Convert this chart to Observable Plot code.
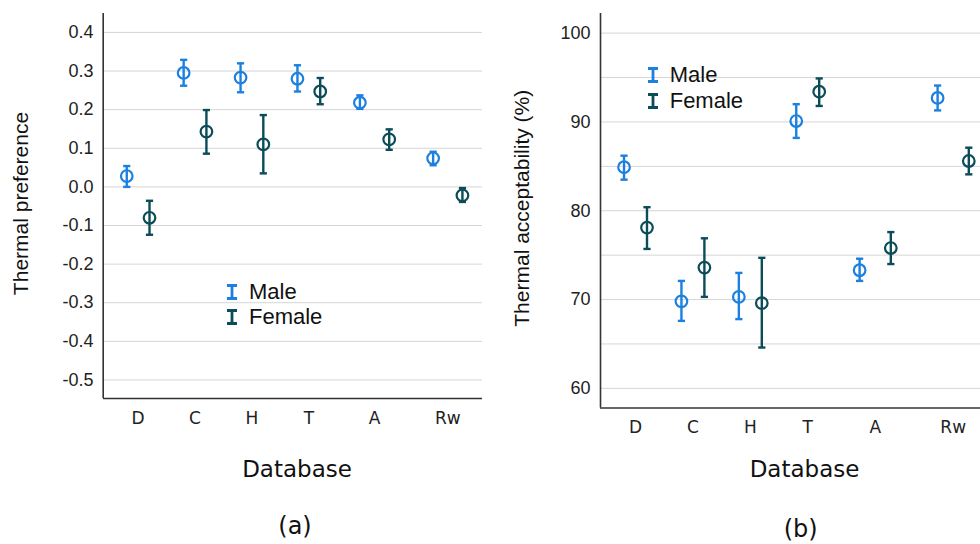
<!DOCTYPE html>
<html><head><meta charset="utf-8">
<script src="https://cdn.jsdelivr.net/npm/d3@7"></script>
<script src="https://cdn.jsdelivr.net/npm/@observablehq/plot@0.6"></script>
<style>
body{margin:0;background:#fff;}
#wrap{position:relative;width:980px;height:544px;overflow:hidden;background:#fff;}
.panel{position:absolute;top:0;}
.cap{position:absolute;font-family:"DejaVu Sans",sans-serif;font-size:24px;color:#111;transform:translate(-50%,-50%);white-space:nowrap;}
.leg{position:absolute;font-family:"Liberation Sans",Arial,sans-serif;font-size:22px;line-height:26px;color:#111;display:flex;align-items:center;white-space:nowrap;}
.leg svg{margin-right:11px;}
</style></head><body><div id="wrap"></div>
<script>
// ---- data ----
const databases = ["D", "C", "H", "T", "A", "Rw"];
const sexes = ["Male", "Female"];
const sexColors = ["#1c80df", "#0b4c59"];

// (a) Thermal preference: mean and error-bar ends
const prefMaleMean   = [0.028, 0.295, 0.283, 0.280, 0.218, 0.074];
const prefMaleLow    = [0.000, 0.262, 0.245, 0.247, 0.202, 0.056];
const prefMaleHigh   = [0.054, 0.329, 0.320, 0.315, 0.237, 0.091];
const prefFemaleMean = [-0.080, 0.143, 0.110, 0.247, 0.123, -0.022];
const prefFemaleLow  = [-0.124, 0.086, 0.035, 0.214, 0.096, -0.039];
const prefFemaleHigh = [-0.036, 0.199, 0.186, 0.282, 0.149, -0.003];
const prefTicks = [-0.5, -0.4, -0.3, -0.2, -0.1, 0.0, 0.1, 0.2, 0.3, 0.4];

// (b) Thermal acceptability (%)
const accMaleMean   = [84.9, 69.8, 70.3, 90.1, 73.3, 92.7];
const accMaleLow    = [83.5, 67.6, 67.8, 88.2, 72.1, 91.3];
const accMaleHigh   = [86.2, 72.1, 73.0, 92.0, 74.6, 94.1];
const accFemaleMean = [78.1, 73.6, 69.6, 93.4, 75.8, 85.6];
const accFemaleLow  = [75.7, 70.3, 64.6, 91.8, 74.0, 84.1];
const accFemaleHigh = [80.4, 76.9, 74.7, 94.9, 77.6, 87.1];
const accTicks = [60, 70, 80, 90, 100];
const accGrid = [60, 65, 70, 75, 80, 85, 90, 95, 100];

function rowsFrom(mM, mL, mH, fM, fL, fH) {
  return databases.flatMap((db, i) => [
    {db, i, sex: "Male", mean: mM[i], low: mL[i], high: mH[i]},
    {db, i, sex: "Female", mean: fM[i], low: fL[i], high: fH[i]}
  ]);
}

const capSymbol = {
  draw(context, size) {
    const w = Math.sqrt(size / Math.PI);
    context.moveTo(-w, 0);
    context.lineTo(w, 0);
  }
};

function panel(o) {
  const dodge = 0.2;
  const xf = d => d.i + (d.sex === "Male" ? -dodge : dodge);
  const ink = "#222";
  return Plot.plot({
    width: o.width, height: o.height,
    marginLeft: o.marginLeft, marginRight: o.marginRight,
    marginTop: o.marginTop, marginBottom: o.marginBottom,
    style: {background: "transparent", overflow: "visible"},
    x: {type: "linear", domain: o.xDomain, range: o.xRange},
    y: {domain: o.yDomain},
    color: {domain: sexes, range: sexColors},
    marks: [
      Plot.ruleY(o.grid, {stroke: "#d5d5d5", strokeWidth: 1}),
      Plot.axisY(o.ticks, {tickSize: 0, tickPadding: 10, tickFormat: o.fmt, fontSize: 18,
        fontFamily: "Liberation Sans, Arial, sans-serif", fill: ink, label: null}),
      Plot.axisX(d3.range(databases.length), {tickSize: 0, tickPadding: 13,
        tickFormat: i => databases[i], fontSize: 17, fontFamily: "DejaVu Sans, sans-serif",
        fill: ink, label: null}),
      Plot.ruleX([o.xDomain[0]], {stroke: "#333", strokeWidth: 1.6}),
      Plot.ruleY([o.yDomain[0]], {stroke: "#333", strokeWidth: 1.6}),
      Plot.ruleX(o.rows, {x: xf, y1: "low", y2: "high", stroke: "sex", strokeWidth: 2.4}),
      Plot.dot(o.rows, {x: xf, y: "low", symbol: capSymbol, r: 3.6, stroke: "sex", fill: "none", strokeWidth: 2.4}),
      Plot.dot(o.rows, {x: xf, y: "high", symbol: capSymbol, r: 3.6, stroke: "sex", fill: "none", strokeWidth: 2.4}),
      Plot.dot(o.rows, {x: xf, y: "mean", r: 5.8, stroke: "sex", fill: "none", strokeWidth: 2.2}),
      Plot.text([o.yLabel], {frameAnchor: "left", textAnchor: "middle", lineAnchor: "middle",
        rotate: -90, dx: o.yLabelDx, dy: -2.5,
        fontSize: 21, fontFamily: "Liberation Sans, Arial, sans-serif", fill: "#111"}),
      Plot.text(["Database"], {frameAnchor: "bottom", textAnchor: "middle", lineAnchor: "middle",
        dx: o.xLabelDx, dy: o.xLabelDy,
        fontSize: 23, fontFamily: "DejaVu Sans, sans-serif", fill: "#111"})
    ]
  });
}

const wrap = document.getElementById("wrap");

const svgA = panel({
  rows: rowsFrom(prefMaleMean, prefMaleLow, prefMaleHigh, prefFemaleMean, prefFemaleLow, prefFemaleHigh),
  width: 490, height: 490, marginLeft: 103, marginRight: 8, marginTop: 13, marginBottom: 92,
  xDomain: [-0.614, 3.46, 5.47], xRange: [102.7, 334.5, 481.7],
  yDomain: [-0.548, 0.449], ticks: prefTicks, grid: prefTicks, fmt: d => d.toFixed(1),
  yLabel: "Thermal preference", yLabelDx: -82, xLabelDx: 4, xLabelDy: 71.5
});
const svgB = panel({
  rows: rowsFrom(accMaleMean, accMaleLow, accMaleHigh, accFemaleMean, accFemaleLow, accFemaleHigh),
  width: 490, height: 490, marginLeft: 110, marginRight: 0, marginTop: 13, marginBottom: 82.5,
  xDomain: [-0.61, 3.51, 5.35], xRange: [110, 346.5, 490],
  yDomain: [57.79, 102.21], ticks: accTicks, grid: accGrid, fmt: d => String(d),
  yLabel: "Thermal acceptability (%)", yLabelDx: -78.3, xLabelDx: 14, xLabelDy: 61.5
});

const pa = document.createElement("div"); pa.className = "panel"; pa.style.left = "0px"; pa.appendChild(svgA); wrap.appendChild(pa);
const pb = document.createElement("div"); pb.className = "panel"; pb.style.left = "490px"; pb.appendChild(svgB); wrap.appendChild(pb);

function glyph(color) {
  return `<svg width="12" height="16" viewBox="0 0 12 16"><path d="M1,1.5H11M6,1.5V14.5M1,14.5H11" stroke="${color}" stroke-width="2.8" fill="none"/></svg>`;
}
function legend(left, centers) {
  sexes.forEach((s, k) => {
    const d = document.createElement("div");
    d.className = "leg";
    d.style.left = left + "px";
    d.style.top = (centers[k] - 13) + "px";
    d.innerHTML = glyph(sexColors[k]) + `<span>${s}</span>`;
    wrap.appendChild(d);
  });
}
legend(226, [291.7, 316.7]);
legend(646.7, [75, 101]);

function caption(text, x, y) {
  const d = document.createElement("div");
  d.className = "cap"; d.textContent = text;
  d.style.left = x + "px"; d.style.top = y + "px";
  wrap.appendChild(d);
}
caption("(a)", 295, 526);
caption("(b)", 800.7, 529);
</script>
</body></html>
